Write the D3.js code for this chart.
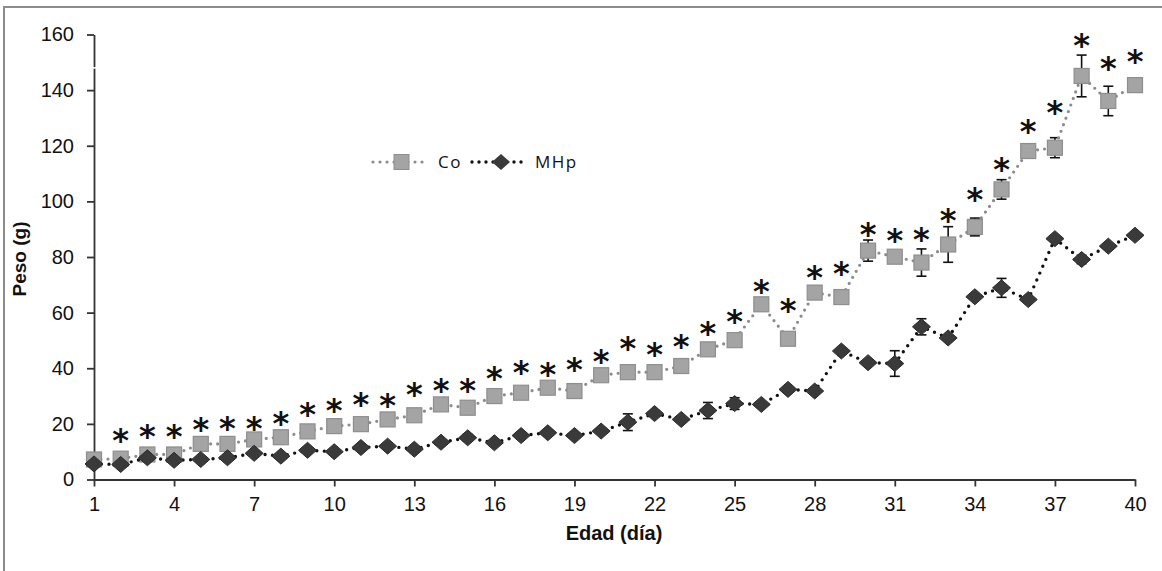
<!DOCTYPE html>
<html>
<head>
<meta charset="utf-8">
<script src="https://cdn.jsdelivr.net/npm/d3@7"></script>
<style>
    html, body { margin: 0; padding: 0; background: #fff; }
    svg { display: block; }
</style>
</head>
<body>
<svg width="1162" height="571"></svg>
<script>
// *** data ***
const days = [1, 2, 3, 4, 5, 6, 7, 8, 9, 10, 11, 12, 13, 14, 15, 16, 17, 18, 19, 20,
    21, 22, 23, 24, 25, 26, 27, 28, 29, 30, 31, 32, 33, 34, 35, 36, 37, 38, 39, 40];
const co = [7.2, 7.5, 9, 9, 12.8, 12.8, 14.4, 15.2, 17.3, 19.2, 19.9, 21.6, 23.1, 27, 25.8, 30, 31.2, 33, 31.8, 37.5,
    38.6, 38.6, 40.8, 46.8, 50.1, 63, 50.6, 67.2, 65.6, 82.3, 80.1, 78, 84.5, 90.8, 104.3, 118.1, 119.3, 145.1, 136.1, 141.8];
const coErr = [0, 0, 0, 0, 0, 0, 0, 0, 0, 0, 0, 0, 0, 0, 0, 0, 0, 0, 0, 0,
    0, 0, 0, 0, 0, 0, 0, 0, 0, 3.8, 0, 4.9, 6.4, 3.2, 3.5, 0, 3.6, 7.5, 5.3, 0];
const mhp = [5.6, 5.4, 7.8, 6.9, 7.2, 7.8, 9.4, 8.4, 10.5, 10, 11.5, 12, 10.9, 13.4, 15, 13.2, 15.8, 16.8, 15.8, 17.4,
    20.6, 23.7, 21.6, 24.8, 27.3, 27, 32.4, 31.8, 46.2, 42, 41.7, 54.9, 50.9, 65.7, 68.9, 64.7, 86.6, 79.1, 83.9, 87.8];
const mhpErr = [0, 0, 0, 0, 0, 0, 0, 0, 0, 0, 0, 0, 0, 0, 1.2, 0, 0, 0, 0, 0,
    3, 0, 0, 2.9, 2.1, 0, 0, 0, 0, 0, 4.6, 2.9, 0, 0, 3.4, 0, 0, 1.5, 0, 0];
// posicion vertical de los asteriscos (null = sin diferencia)
const sigY = [null, 16.9, 18.2, 18.2, 21, 21.3, 21.3, 23, 26.1, 27.8, 30, 29.4, 33.3, 35, 35, 39.3, 41.4, 40.8, 42.6, 45.3,
    50.1, 47.7, 50.6, 55.4, 59.7, 70.5, 63.6, 75.4, 77, 90.9, 88.7, 89.1, 96.2, 103.4, 114.5, 127.9, 134.9, 159.1, 150.5, 153.2];
const xTicks = [1, 4, 7, 10, 13, 16, 19, 22, 25, 28, 31, 34, 37, 40];
const yTicks = [0, 20, 40, 60, 80, 100, 120, 140, 160];
const seriesNames = ['Co', 'MHp'];

const coData = days.map((d, i) => ({ day: d, v: co[i], e: coErr[i] }));
const mhpData = days.map((d, i) => ({ day: d, v: mhp[i], e: mhpErr[i] }));
const sigData = days.map((d, i) => ({ day: d, v: sigY[i] })).filter(d => d.v !== null);

// *** visualization ***
const svg = d3.select('svg');
const font = '"Liberation Sans", Arial, sans-serif';

const x = d3.scaleLinear().domain([1, 40]).range([94, 1135]);
const y = d3.scaleLinear().domain([0, 160]).range([479.5, 34.5]);

// marco
svg.append('path')
    .attr('d', 'M4,571V7H1162')
    .attr('fill', 'none')
    .attr('stroke', '#8c8c8c')
    .attr('stroke-width', 2);

// ejes
const yAxis = svg.append('g')
    .attr('transform', `translate(${x(1)},0)`)
    .call(d3.axisLeft(y).tickValues(yTicks).tickSize(7).tickSizeOuter(0).tickPadding(13));
const xAxis = svg.append('g')
    .attr('transform', `translate(0,${y(0)})`)
    .call(d3.axisBottom(x).tickValues(xTicks).tickSize(7).tickSizeOuter(0).tickPadding(10));
[yAxis, xAxis].forEach(g => {
    g.selectAll('path, line').attr('stroke', '#333').attr('stroke-width', 1.8);
    g.selectAll('text')
        .attr('fill', '#111')
        .style('font-family', font)
        .style('font-size', '20px');
});
// pequeño corte en el eje y
svg.append('rect')
    .attr('x', x(1) - 2).attr('y', y(148.3))
    .attr('width', 4).attr('height', 1.6)
    .attr('fill', '#fff');

svg.append('text')
    .attr('transform', `translate(26,${(y(0) + y(160)) / 2 + 2}) rotate(-90)`)
    .attr('text-anchor', 'middle')
    .style('font-family', font)
    .style('font-weight', 'bold')
    .style('font-size', '19px')
    .attr('fill', '#111')
    .text('Peso (g)');
svg.append('text')
    .attr('x', 614).attr('y', 540)
    .attr('text-anchor', 'middle')
    .style('font-family', font)
    .style('font-weight', 'bold')
    .style('font-size', '20px')
    .attr('fill', '#111')
    .text('Edad (día)');

const line = d3.line().x(d => x(d.day)).y(d => y(d.v));
const diamond = 'M0,-8L9,0L0,8L-9,0Z';

const errorBars = (data, g) => {
    const bars = g.selectAll('g')
        .data(data.filter(d => d.e > 0))
        .join('g')
        .attr('stroke', '#111')
        .attr('stroke-width', 1.6);
    bars.append('line')
        .attr('x1', d => x(d.day)).attr('x2', d => x(d.day))
        .attr('y1', d => y(d.v - d.e)).attr('y2', d => y(d.v + d.e));
    bars.append('line')
        .attr('x1', d => x(d.day) - 5).attr('x2', d => x(d.day) + 5)
        .attr('y1', d => y(d.v + d.e)).attr('y2', d => y(d.v + d.e));
    bars.append('line')
        .attr('x1', d => x(d.day) - 5).attr('x2', d => x(d.day) + 5)
        .attr('y1', d => y(d.v - d.e)).attr('y2', d => y(d.v - d.e));
};

// Co
errorBars(coData, svg.append('g'));
svg.append('path')
    .datum(coData)
    .attr('d', line)
    .attr('fill', 'none')
    .attr('stroke', '#8c8c8c')
    .attr('stroke-width', 3.2)
    .attr('stroke-linecap', 'round')
    .attr('stroke-dasharray', '0,7');
svg.append('g')
    .selectAll('rect')
    .data(coData)
    .join('rect')
    .attr('x', d => x(d.day) - 7.5)
    .attr('y', d => y(d.v) - 7.5)
    .attr('width', 15).attr('height', 15)
    .attr('fill', '#a4a4a4')
    .attr('stroke', '#8e8e8e')
    .attr('stroke-width', 1.2);

// MHp
errorBars(mhpData, svg.append('g'));
svg.append('path')
    .datum(mhpData)
    .attr('d', line)
    .attr('fill', 'none')
    .attr('stroke', '#111')
    .attr('stroke-width', 3.4)
    .attr('stroke-linecap', 'round')
    .attr('stroke-dasharray', '0,7.5');
svg.append('g')
    .selectAll('path')
    .data(mhpData)
    .join('path')
    .attr('transform', d => `translate(${x(d.day)},${y(d.v)})`)
    .attr('d', diamond)
    .attr('fill', '#3a3a3a')
    .attr('stroke', '#2a2a2a')
    .attr('stroke-width', 1);

// asteriscos
svg.append('g')
    .selectAll('text')
    .data(sigData)
    .join('text')
    .attr('x', d => x(d.day))
    .attr('y', d => y(d.v))
    .attr('dy', '0.58em')
    .attr('text-anchor', 'middle')
    .style('font-family', '"DejaVu Sans", sans-serif')
    .style('font-weight', 'bold')
    .style('font-size', '32px')
    .attr('fill', '#111')
    .text('*');

// leyenda
const legend = svg.append('g').attr('transform', 'translate(373,162)');
const legendItems = [
    { name: seriesNames[0], x0: 0, color: '#8c8c8c', w: 3.2 },
    { name: seriesNames[1], x0: 99, color: '#111', w: 3.4 },
];
legendItems.forEach((it, i) => {
    const g = legend.append('g').attr('transform', `translate(${it.x0},0)`);
    g.append('line')
        .attr('x1', 0).attr('x2', 54)
        .attr('stroke', it.color)
        .attr('stroke-width', it.w)
        .attr('stroke-linecap', 'round')
        .attr('stroke-dasharray', '0,7');
    if (i === 0) {
        g.append('rect')
            .attr('x', 21).attr('y', -7.5)
            .attr('width', 15).attr('height', 15)
            .attr('fill', '#a4a4a4').attr('stroke', '#8e8e8e');
    } else {
        g.append('path')
            .attr('transform', 'translate(29,0)')
            .attr('d', diamond)
            .attr('fill', '#3a3a3a');
    }
    g.append('text')
        .attr('x', i === 0 ? 65 : 63).attr('y', 6)
        .style('font-family', '"Open Sans", sans-serif')
        .style('font-size', '17px')
        .style('letter-spacing', '1.5px')
        .attr('fill', '#111')
        .text(it.name);
});
</script>
</body>
</html>
